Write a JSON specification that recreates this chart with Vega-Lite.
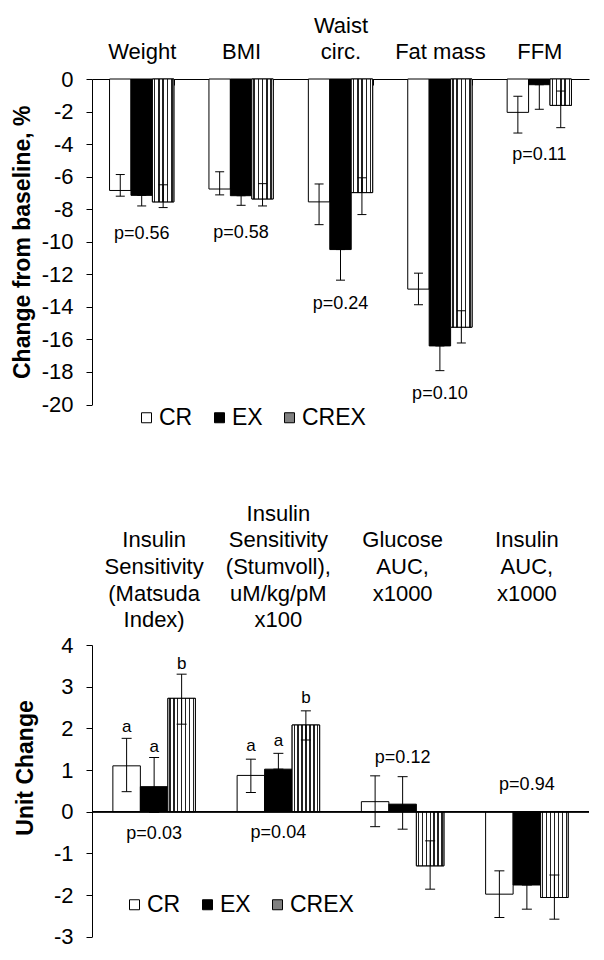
{
  "$schema": "https://vega.github.io/schema/vega-lite/v6.json",
  "background": "white",
  "padding": {"left": 11, "top": 14, "right": 5, "bottom": 5},
  "config": {
    "font": "Liberation Sans",
    "view": {"stroke": null},
    "axis": {"domainColor": "black", "tickColor": "black", "labelColor": "black", "titleColor": "black", "grid": false, "labelFont": "Liberation Sans", "titleFont": "Liberation Sans"},
    "legend": {"labelFont": "Liberation Sans", "labelColor": "black"},
    "text": {"font": "Liberation Sans", "color": "black"}
  },
  "datasets": {
    "body": [
      {"measure": "Weight", "group": "CR", "value": -6.85, "lo": -7.2, "hi": -5.87},
      {"measure": "Weight", "group": "EX", "value": -7.15, "lo": -7.8, "hi": -7.15},
      {"measure": "Weight", "group": "CREX", "value": -7.55, "lo": -7.9, "hi": -6.5},
      {"measure": "BMI", "group": "CR", "value": -6.76, "lo": -7.12, "hi": -5.7},
      {"measure": "BMI", "group": "EX", "value": -7.17, "lo": -7.76, "hi": -7.17},
      {"measure": "BMI", "group": "CREX", "value": -7.37, "lo": -7.8, "hi": -6.43},
      {"measure": "Waist circ.", "group": "CR", "value": -7.55, "lo": -8.95, "hi": -6.45},
      {"measure": "Waist circ.", "group": "EX", "value": -10.48, "lo": -12.36, "hi": -10.48},
      {"measure": "Waist circ.", "group": "CREX", "value": -6.98, "lo": -8.33, "hi": -6.07},
      {"measure": "Fat mass", "group": "CR", "value": -12.91, "lo": -13.87, "hi": -11.93},
      {"measure": "Fat mass", "group": "EX", "value": -16.4, "lo": -17.92, "hi": -16.4},
      {"measure": "Fat mass", "group": "CREX", "value": -15.25, "lo": -16.22, "hi": -14.24},
      {"measure": "FFM", "group": "CR", "value": -2.05, "lo": -3.32, "hi": -1.06},
      {"measure": "FFM", "group": "EX", "value": -0.35, "lo": -1.86, "hi": -0.35},
      {"measure": "FFM", "group": "CREX", "value": -1.62, "lo": -2.99, "hi": -0.74}
    ],
    "bodyP": [
      {"measure": "Weight", "p": "p=0.56", "py": -9.54},
      {"measure": "BMI", "p": "p=0.58", "py": -9.47},
      {"measure": "Waist circ.", "p": "p=0.24", "py": -13.83},
      {"measure": "Fat mass", "p": "p=0.10", "py": -19.35},
      {"measure": "FFM", "p": "p=0.11", "py": -4.7}
    ],
    "gluc": [
      {"measure": "Insulin Sensitivity (Matsuda Index)", "group": "CR", "value": 1.1, "lo": 0.48, "hi": 1.76, "letter": "a", "ly": 2.03},
      {"measure": "Insulin Sensitivity (Matsuda Index)", "group": "EX", "value": 0.6, "lo": -0.02, "hi": 1.3, "letter": "a", "ly": 1.56},
      {"measure": "Insulin Sensitivity (Matsuda Index)", "group": "CREX", "value": 2.72, "lo": 2.1, "hi": 3.3, "letter": "b", "ly": 3.54},
      {"measure": "Insulin Sensitivity (Stumvoll), uM/kg/pM x100", "group": "CR", "value": 0.87, "lo": 0.46, "hi": 1.26, "letter": "a", "ly": 1.58},
      {"measure": "Insulin Sensitivity (Stumvoll), uM/kg/pM x100", "group": "EX", "value": 1.02, "lo": 1.02, "hi": 1.4, "letter": "a", "ly": 1.7},
      {"measure": "Insulin Sensitivity (Stumvoll), uM/kg/pM x100", "group": "CREX", "value": 2.08, "lo": 1.72, "hi": 2.42, "letter": "b", "ly": 2.72},
      {"measure": "Glucose AUC, x1000", "group": "CR", "value": 0.24, "lo": -0.36, "hi": 0.86, "letter": "", "ly": 0},
      {"measure": "Glucose AUC, x1000", "group": "EX", "value": 0.18, "lo": -0.42, "hi": 0.84, "letter": "", "ly": 0},
      {"measure": "Glucose AUC, x1000", "group": "CREX", "value": -1.3, "lo": -1.86, "hi": -0.7, "letter": "", "ly": 0},
      {"measure": "Insulin AUC, x1000", "group": "CR", "value": -1.98, "lo": -2.54, "hi": -1.42, "letter": "", "ly": 0},
      {"measure": "Insulin AUC, x1000", "group": "EX", "value": -1.76, "lo": -2.34, "hi": -1.76, "letter": "", "ly": 0},
      {"measure": "Insulin AUC, x1000", "group": "CREX", "value": -2.06, "lo": -2.58, "hi": -1.52, "letter": "", "ly": 0}
    ],
    "glucP": [
      {"measure": "Insulin Sensitivity (Matsuda Index)", "p": "p=0.03", "py": -0.53},
      {"measure": "Insulin Sensitivity (Stumvoll), uM/kg/pM x100", "p": "p=0.04", "py": -0.5},
      {"measure": "Glucose AUC, x1000", "p": "p=0.12", "py": 1.3},
      {"measure": "Insulin AUC, x1000", "p": "p=0.94", "py": 0.64}
    ]
  },
  "spacing": 72,
  "resolve": {"scale": {"x": "independent", "y": "independent", "xOffset": "independent", "fill": "independent"}, "legend": {"fill": "independent"}},
  "vconcat": [
    {
      "width": 497,
      "height": 325.5,
      "layer": [
        {
          "data": {"name": "body"},
          "mark": {"type": "bar", "stroke": "black", "strokeWidth": 1},
          "encoding": {
            "x": {"field": "measure", "type": "nominal", "sort": ["Weight", "BMI", "Waist circ.", "Fat mass", "FFM"], "scale": {"paddingInner": 0.353, "paddingOuter": 0.1765},
              "axis": {"orient": "top", "title": null, "labelAngle": 0, "labelFontSize": 22, "labelLineHeight": 26.7, "labelBaseline": "alphabetic", "labelPadding": 52.7, "tickBand": "extent", "tickSize": -6, "labelOverlap": false,
                "labelExpr": "datum.label == 'Waist circ.' ? ['Waist', 'circ.'] : ['', datum.label]"}},
            "xOffset": {"field": "group", "type": "nominal", "sort": ["CR", "EX", "CREX"], "scale": {"paddingInner": 0, "paddingOuter": 0}},
            "y": {"field": "value", "type": "quantitative", "scale": {"domain": [-20, 0], "nice": false},
              "axis": {"title": "Change from baseline, %", "titleFontSize": 23, "titleFontWeight": "bold", "titlePadding": 7, "labelFontSize": 22, "tickSize": 6, "labelPadding": 13, "values": [0, -2, -4, -6, -8, -10, -12, -14, -16, -18, -20], "tickCount": 11, "labelOverlap": false, "labelExpr": "toString(datum.value)"}},
            "fill": {"field": "group", "type": "nominal", "scale": {"domain": ["CR", "EX", "CREX"], "range": ["white", "black", "#808080"]},
              "legend": {"orient": "none", "legendX": 43, "legendY": 327, "direction": "horizontal", "title": null, "symbolType": "square", "symbolSize": 100, "symbolStrokeColor": "black", "symbolStrokeWidth": 1, "labelFontSize": 23, "labelOffset": 1, "columnPadding": 15,
                "encoding": {"symbols": {"update": {"fill": [
                  {"test": "datum.value === 'CR'", "value": "white"},
                  {"test": "datum.value === 'EX'", "value": "black"},
                  {"value": {"gradient": "linear", "x1": 0, "y1": 1, "x2": 1, "y2": 0, "stops": [
                    {"offset": 0, "color": "white"}, {"offset": 0.12, "color": "white"}, {"offset": 0.12, "color": "#222"}, {"offset": 0.22, "color": "#222"}, {"offset": 0.22, "color": "white"},
                    {"offset": 0.37, "color": "white"}, {"offset": 0.37, "color": "#222"}, {"offset": 0.47, "color": "#222"}, {"offset": 0.47, "color": "white"},
                    {"offset": 0.62, "color": "white"}, {"offset": 0.62, "color": "#222"}, {"offset": 0.72, "color": "#222"}, {"offset": 0.72, "color": "white"},
                    {"offset": 0.85, "color": "white"}, {"offset": 0.85, "color": "#222"}, {"offset": 0.93, "color": "#222"}, {"offset": 0.93, "color": "white"}, {"offset": 1, "color": "white"}]}}
                ]}}}}}
          }
        },
        {
          "data": {"name": "body"},
          "transform": [{"filter": "datum.group === 'CREX'"}],
          "mark": {"type": "bar", "stroke": "black", "strokeWidth": 1, "fill": {"gradient": "linear", "x1": 0, "y1": 0, "x2": 1, "y2": 0, "stops": [
            {"offset": 0, "color": "white"}, {"offset": 0.07, "color": "white"}, {"offset": 0.07, "color": "#222"}, {"offset": 0.14, "color": "#222"}, {"offset": 0.14, "color": "white"},
            {"offset": 0.27, "color": "white"}, {"offset": 0.27, "color": "#222"}, {"offset": 0.34, "color": "#222"}, {"offset": 0.34, "color": "white"},
            {"offset": 0.47, "color": "white"}, {"offset": 0.47, "color": "#222"}, {"offset": 0.54, "color": "#222"}, {"offset": 0.54, "color": "white"},
            {"offset": 0.67, "color": "white"}, {"offset": 0.67, "color": "#222"}, {"offset": 0.74, "color": "#222"}, {"offset": 0.74, "color": "white"},
            {"offset": 0.87, "color": "white"}, {"offset": 0.87, "color": "#222"}, {"offset": 0.94, "color": "#222"}, {"offset": 0.94, "color": "white"}, {"offset": 1, "color": "white"}]}},
          "encoding": {
            "x": {"field": "measure", "type": "nominal", "sort": ["Weight", "BMI", "Waist circ.", "Fat mass", "FFM"]},
            "xOffset": {"field": "group", "type": "nominal", "sort": ["CR", "EX", "CREX"]},
            "y": {"field": "value", "type": "quantitative"}
          }
        },
        {
          "data": {"name": "body"},
          "mark": {"type": "rule", "color": "black", "strokeWidth": 1},
          "encoding": {
            "x": {"field": "measure", "type": "nominal", "sort": ["Weight", "BMI", "Waist circ.", "Fat mass", "FFM"]},
            "xOffset": {"field": "group", "type": "nominal", "sort": ["CR", "EX", "CREX"]},
            "y": {"field": "lo", "type": "quantitative"},
            "y2": {"field": "hi"}
          }
        },
        {
          "data": {"name": "body"},
          "mark": {"type": "tick", "color": "black", "size": 9, "thickness": 1, "opacity": 1},
          "encoding": {
            "x": {"field": "measure", "type": "nominal", "sort": ["Weight", "BMI", "Waist circ.", "Fat mass", "FFM"]},
            "xOffset": {"field": "group", "type": "nominal", "sort": ["CR", "EX", "CREX"]},
            "y": {"field": "lo", "type": "quantitative"}
          }
        },
        {
          "data": {"name": "body"},
          "mark": {"type": "tick", "color": "black", "size": 9, "thickness": 1, "opacity": 1},
          "encoding": {
            "x": {"field": "measure", "type": "nominal", "sort": ["Weight", "BMI", "Waist circ.", "Fat mass", "FFM"]},
            "xOffset": {"field": "group", "type": "nominal", "sort": ["CR", "EX", "CREX"]},
            "y": {"field": "hi", "type": "quantitative"}
          }
        },
        {
          "data": {"name": "bodyP"},
          "mark": {"type": "text", "fontSize": 18, "baseline": "middle", "align": "center"},
          "encoding": {
            "x": {"field": "measure", "type": "nominal", "sort": ["Weight", "BMI", "Waist circ.", "Fat mass", "FFM"]},
            "y": {"field": "py", "type": "quantitative"},
            "text": {"field": "p"}
          }
        }
      ]
    },
    {
      "width": 497,
      "height": 291.67,
      "layer": [
        {
          "data": {"name": "gluc"},
          "mark": {"type": "bar", "stroke": "black", "strokeWidth": 1},
          "encoding": {
            "x": {"field": "measure", "type": "nominal", "sort": ["Insulin Sensitivity (Matsuda Index)", "Insulin Sensitivity (Stumvoll), uM/kg/pM x100", "Glucose AUC, x1000", "Insulin AUC, x1000"], "scale": {"paddingInner": 0.336, "paddingOuter": 0.168},
              "axis": {"orient": "top", "title": null, "labelAngle": 0, "labelFontSize": 22, "labelLineHeight": 26.7, "labelBaseline": "alphabetic", "labelPadding": 124.8, "ticks": false, "domain": false, "labelOverlap": false, "labelLimit": 300,
                "labelExpr": "split(slice('    ', 0, 5 - length(split(datum.label, ' '))) + datum.label, ' ')"}},
            "xOffset": {"field": "group", "type": "nominal", "sort": ["CR", "EX", "CREX"], "scale": {"paddingInner": 0, "paddingOuter": 0}},
            "y": {"field": "value", "type": "quantitative", "scale": {"domain": [-3, 4], "nice": false},
              "axis": {"title": "Unit Change", "titleFontSize": 23, "titleFontWeight": "bold", "titlePadding": 16, "titleY": 122.5, "labelFontSize": 22, "tickSize": 6, "labelPadding": 13, "values": [4, 3, 2, 1, 0, -1, -2, -3], "labelOverlap": false, "labelExpr": "toString(datum.value)"}},
            "fill": {"field": "group", "type": "nominal", "scale": {"domain": ["CR", "EX", "CREX"], "range": ["white", "black", "#808080"]},
              "legend": {"orient": "none", "legendX": 31, "legendY": 248, "direction": "horizontal", "title": null, "symbolType": "square", "symbolSize": 100, "symbolStrokeColor": "black", "symbolStrokeWidth": 1, "labelFontSize": 23, "labelOffset": 1, "columnPadding": 15,
                "encoding": {"symbols": {"update": {"fill": [
                  {"test": "datum.value === 'CR'", "value": "white"},
                  {"test": "datum.value === 'EX'", "value": "black"},
                  {"value": {"gradient": "linear", "x1": 0, "y1": 1, "x2": 1, "y2": 0, "stops": [
                    {"offset": 0, "color": "white"}, {"offset": 0.12, "color": "white"}, {"offset": 0.12, "color": "#222"}, {"offset": 0.22, "color": "#222"}, {"offset": 0.22, "color": "white"},
                    {"offset": 0.37, "color": "white"}, {"offset": 0.37, "color": "#222"}, {"offset": 0.47, "color": "#222"}, {"offset": 0.47, "color": "white"},
                    {"offset": 0.62, "color": "white"}, {"offset": 0.62, "color": "#222"}, {"offset": 0.72, "color": "#222"}, {"offset": 0.72, "color": "white"},
                    {"offset": 0.85, "color": "white"}, {"offset": 0.85, "color": "#222"}, {"offset": 0.93, "color": "#222"}, {"offset": 0.93, "color": "white"}, {"offset": 1, "color": "white"}]}}
                ]}}}}}
          }
        },
        {
          "data": {"name": "gluc"},
          "transform": [{"filter": "datum.group === 'CREX'"}],
          "mark": {"type": "bar", "stroke": "black", "strokeWidth": 1, "fill": {"gradient": "linear", "x1": 0, "y1": 0, "x2": 1, "y2": 0, "stops": [
            {"offset": 0, "color": "white"}, {"offset": 0.05, "color": "white"}, {"offset": 0.05, "color": "#222"}, {"offset": 0.1, "color": "#222"}, {"offset": 0.1, "color": "white"},
            {"offset": 0.193, "color": "white"}, {"offset": 0.193, "color": "#222"}, {"offset": 0.243, "color": "#222"}, {"offset": 0.243, "color": "white"},
            {"offset": 0.336, "color": "white"}, {"offset": 0.336, "color": "#222"}, {"offset": 0.386, "color": "#222"}, {"offset": 0.386, "color": "white"},
            {"offset": 0.479, "color": "white"}, {"offset": 0.479, "color": "#222"}, {"offset": 0.529, "color": "#222"}, {"offset": 0.529, "color": "white"},
            {"offset": 0.621, "color": "white"}, {"offset": 0.621, "color": "#222"}, {"offset": 0.671, "color": "#222"}, {"offset": 0.671, "color": "white"},
            {"offset": 0.764, "color": "white"}, {"offset": 0.764, "color": "#222"}, {"offset": 0.814, "color": "#222"}, {"offset": 0.814, "color": "white"},
            {"offset": 0.907, "color": "white"}, {"offset": 0.907, "color": "#222"}, {"offset": 0.957, "color": "#222"}, {"offset": 0.957, "color": "white"}, {"offset": 1, "color": "white"}]}},
          "encoding": {
            "x": {"field": "measure", "type": "nominal", "sort": ["Insulin Sensitivity (Matsuda Index)", "Insulin Sensitivity (Stumvoll), uM/kg/pM x100", "Glucose AUC, x1000", "Insulin AUC, x1000"]},
            "xOffset": {"field": "group", "type": "nominal", "sort": ["CR", "EX", "CREX"]},
            "y": {"field": "value", "type": "quantitative"}
          }
        },
        {
          "data": {"name": "gluc"},
          "mark": {"type": "rule", "color": "black", "strokeWidth": 1},
          "encoding": {"y": {"datum": 0, "type": "quantitative"}}
        },
        {
          "data": {"name": "gluc"},
          "mark": {"type": "rule", "color": "black", "strokeWidth": 1},
          "encoding": {
            "x": {"field": "measure", "type": "nominal", "sort": ["Insulin Sensitivity (Matsuda Index)", "Insulin Sensitivity (Stumvoll), uM/kg/pM x100", "Glucose AUC, x1000", "Insulin AUC, x1000"]},
            "xOffset": {"field": "group", "type": "nominal", "sort": ["CR", "EX", "CREX"]},
            "y": {"field": "lo", "type": "quantitative"},
            "y2": {"field": "hi"}
          }
        },
        {
          "data": {"name": "gluc"},
          "mark": {"type": "tick", "color": "black", "size": 10, "thickness": 1, "opacity": 1},
          "encoding": {
            "x": {"field": "measure", "type": "nominal", "sort": ["Insulin Sensitivity (Matsuda Index)", "Insulin Sensitivity (Stumvoll), uM/kg/pM x100", "Glucose AUC, x1000", "Insulin AUC, x1000"]},
            "xOffset": {"field": "group", "type": "nominal", "sort": ["CR", "EX", "CREX"]},
            "y": {"field": "lo", "type": "quantitative"}
          }
        },
        {
          "data": {"name": "gluc"},
          "mark": {"type": "tick", "color": "black", "size": 10, "thickness": 1, "opacity": 1},
          "encoding": {
            "x": {"field": "measure", "type": "nominal", "sort": ["Insulin Sensitivity (Matsuda Index)", "Insulin Sensitivity (Stumvoll), uM/kg/pM x100", "Glucose AUC, x1000", "Insulin AUC, x1000"]},
            "xOffset": {"field": "group", "type": "nominal", "sort": ["CR", "EX", "CREX"]},
            "y": {"field": "hi", "type": "quantitative"}
          }
        },
        {
          "data": {"name": "gluc"},
          "transform": [{"filter": "datum.letter !== ''"}],
          "mark": {"type": "text", "fontSize": 17, "baseline": "middle", "align": "center"},
          "encoding": {
            "x": {"field": "measure", "type": "nominal", "sort": ["Insulin Sensitivity (Matsuda Index)", "Insulin Sensitivity (Stumvoll), uM/kg/pM x100", "Glucose AUC, x1000", "Insulin AUC, x1000"]},
            "xOffset": {"field": "group", "type": "nominal", "sort": ["CR", "EX", "CREX"]},
            "y": {"field": "ly", "type": "quantitative"},
            "text": {"field": "letter"}
          }
        },
        {
          "data": {"name": "glucP"},
          "mark": {"type": "text", "fontSize": 18, "baseline": "middle", "align": "center"},
          "encoding": {
            "x": {"field": "measure", "type": "nominal", "sort": ["Insulin Sensitivity (Matsuda Index)", "Insulin Sensitivity (Stumvoll), uM/kg/pM x100", "Glucose AUC, x1000", "Insulin AUC, x1000"]},
            "y": {"field": "py", "type": "quantitative"},
            "text": {"field": "p"}
          }
        }
      ]
    }
  ]
}
